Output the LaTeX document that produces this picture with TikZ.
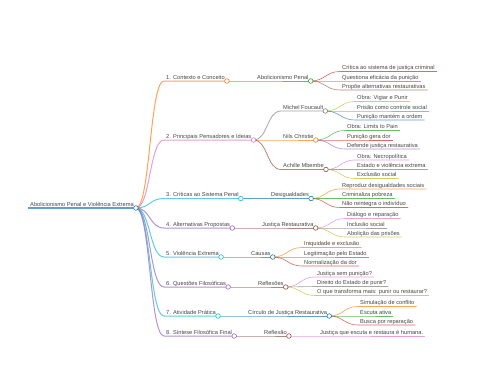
\documentclass[tikz,border=0pt]{standalone}
\usepackage{fontspec}
\setmainfont{Liberation Sans}
\usepackage{tikz}

\definecolor{cblue}{HTML}{1F77B4}
\definecolor{corange}{HTML}{FF7F0E}
\definecolor{cgreen}{HTML}{2CA02C}
\definecolor{cred}{HTML}{D62728}
\definecolor{cpurple}{HTML}{9467BD}
\definecolor{cbrown}{HTML}{8C564B}
\definecolor{cpink}{HTML}{E377C2}
\definecolor{cgray}{HTML}{7F7F7F}
\definecolor{colive}{HTML}{BCBD22}
\definecolor{ccyan}{HTML}{17BECF}

\tikzset{
  txt/.style={anchor=south west, inner xsep=2pt, inner ysep=0.8pt, text height=4.1pt, text depth=1pt,
    font=\fontsize{5.7}{6.5}\selectfont, text=black!72},
  hub/.style={circle, draw=#1, fill=white, line width=0.6pt, minimum size=4.6pt, inner sep=0pt},
  w0/.style={line width=1.5pt, draw opacity=0.7}, w1/.style={line width=1.0pt, draw opacity=0.7},
  w2/.style={line width=0.8pt, draw opacity=0.7}, w3/.style={line width=0.6pt, draw opacity=0.7}
}
% link from parent circle, then the child's underline
\newcommand{\mmlink}[4]{\draw[#1,#2] (#3.south east) .. controls +(14.5,0) and +(-14.5,0) .. (#4.south west) -- (#4.south east);}

\begin{document}
\begin{tikzpicture}[x=1pt,y=-1pt]
\useasboundingbox[fill=white] (0,0) rectangle (480,384);

% root and level 1
\node[txt] (root) at (28,208) {Abolicionismo Penal e Violência Extrema};
\node[txt] (ctx) at (164,81) {1. Contexto e Conceito};
\node[txt] (pen) at (164,140) {2. Principais Pensadores e Ideias};
\node[txt] (cri) at (164,198.5) {3. Críticas ao Sistema Penal};
\node[txt] (alt) at (164,228) {4. Alternativas Propostas};
\node[txt] (vio) at (164,257) {5. Violência Extrema};
\node[txt] (que) at (164,287) {6. Questões Filosóficas};
\node[txt] (ati) at (164,316) {7. Atividade Prática};
\node[txt] (sin) at (164,336) {8. Síntese Filosófica Final};

% level 2
\node[txt] (abo) at (255,81) {Abolicionismo Penal};
\node[txt] (fou) at (281,111) {Michel Foucault};
\node[txt] (nil) at (281,140) {Nils Christie};
\node[txt] (mbe) at (281,169.5) {Achille Mbembe};
\node[txt] (des) at (269,198.5) {Desigualdades};
\node[txt] (jus) at (260,228) {Justiça Restaurativa};
\node[txt] (cau) at (249,257) {Causas};
\node[txt] (rfl) at (256,287) {Reflexões};
\node[txt] (cir) at (246,316) {Círculo de Justiça Restaurativa};
\node[txt] (rfx) at (262,336) {Reflexão};

% leaves
\node[txt] (a1) at (340,71.5) {Crítica ao sistema de justiça criminal};
\node[txt] (a2) at (340,81) {Questiona eficácia da punição};
\node[txt] (a3) at (340,90) {Propõe alternativas restaurativas};
\node[txt] (f1) at (355,101.5) {Obra: Vigiar e Punir};
\node[txt] (f2) at (355,111) {Prisão como controle social};
\node[txt] (f3) at (355,120) {Punição mantém a ordem};
\node[txt] (n1) at (345,130.5) {Obra: Limits to Pain};
\node[txt] (n2) at (345,140) {Punição gera dor};
\node[txt] (n3) at (345,149) {Defende justiça restaurativa};
\node[txt] (m1) at (355,160) {Obra: Necropolítica};
\node[txt] (m2) at (355,169.5) {Estado e violência extrema};
\node[txt] (m3) at (355,178.5) {Exclusão social};
\node[txt] (d1) at (340,189) {Reproduz desigualdades sociais};
\node[txt] (d2) at (340,198.5) {Criminaliza pobreza};
\node[txt] (d3) at (340,207.5) {Não reintegra o indivíduo};
\node[txt] (j1) at (345,218.5) {Diálogo e reparação};
\node[txt] (j2) at (345,228) {Inclusão social};
\node[txt] (j3) at (345,237) {Abolição das prisões};
\node[txt] (c1) at (302,247.5) {Iniquidade e exclusão};
\node[txt] (c2) at (302,257) {Legitimação pelo Estado};
\node[txt] (c3) at (302,266) {Normalização da dor};
\node[txt] (r1) at (315,277) {Justiça sem punição?};
\node[txt] (r2) at (315,286.5) {Direito do Estado de punir?};
\node[txt] (r3) at (315,295.5) {O que transforma mais: punir ou restaurar?};
\node[txt] (s1) at (358,306.5) {Simulação de conflito};
\node[txt] (s2) at (358,316) {Escuta ativa};
\node[txt] (s3) at (358,325) {Busca por reparação};
\node[txt] (h1) at (318,336) {Justiça que escuta e restaura é humana.};

% connectors and underlines
\draw[cblue,w0] (root.south west) -- (root.south east);
\mmlink{corange}{w1}{root}{ctx}
\mmlink{cpink}{w1}{root}{pen}
\mmlink{ccyan}{w1}{root}{cri}
\mmlink{cpurple}{w1}{root}{alt}
\mmlink{ccyan}{w1}{root}{vio}
\mmlink{cpurple}{w1}{root}{que}
\mmlink{ccyan}{w1}{root}{ati}
\mmlink{cpurple}{w1}{root}{sin}

\mmlink{cgreen}{w2}{ctx}{abo}
\mmlink{cgray}{w2}{pen}{fou}
\mmlink{corange}{w2}{pen}{nil}
\mmlink{cbrown}{w2}{pen}{mbe}
\mmlink{cblue}{w2}{cri}{des}
\mmlink{cbrown}{w2}{alt}{jus}
\mmlink{cblue}{w2}{vio}{cau}
\mmlink{cbrown}{w2}{que}{rfl}
\mmlink{cblue}{w2}{ati}{cir}
\mmlink{cbrown}{w2}{sin}{rfx}

\mmlink{cred}{w3}{abo}{a1}
\mmlink{cpurple}{w3}{abo}{a2}
\mmlink{cbrown}{w3}{abo}{a3}
\mmlink{colive}{w3}{fou}{f1}
\mmlink{ccyan}{w3}{fou}{f2}
\mmlink{cblue}{w3}{fou}{f3}
\mmlink{cgreen}{w3}{nil}{n1}
\mmlink{cred}{w3}{nil}{n2}
\mmlink{cpurple}{w3}{nil}{n3}
\mmlink{cpink}{w3}{mbe}{m1}
\mmlink{cgray}{w3}{mbe}{m2}
\mmlink{colive}{w3}{mbe}{m3}
\mmlink{corange}{w3}{des}{d1}
\mmlink{cgreen}{w3}{des}{d2}
\mmlink{cred}{w3}{des}{d3}
\mmlink{cpink}{w3}{jus}{j1}
\mmlink{cgray}{w3}{jus}{j2}
\mmlink{colive}{w3}{jus}{j3}
\mmlink{corange}{w3}{cau}{c1}
\mmlink{cgreen}{w3}{cau}{c2}
\mmlink{cred}{w3}{cau}{c3}
\mmlink{cpink}{w3}{rfl}{r1}
\mmlink{cgray}{w3}{rfl}{r2}
\mmlink{colive}{w3}{rfl}{r3}
\mmlink{corange}{w3}{cir}{s1}
\mmlink{cgreen}{w3}{cir}{s2}
\mmlink{cred}{w3}{cir}{s3}
\mmlink{cpink}{w3}{rfx}{h1}

% circles on nodes with children
\node[hub=cblue] (root-o) at (root.south east) {};
\node[hub=corange] (ctx-o) at (ctx.south east) {};
\node[hub=cpink] (pen-o) at (pen.south east) {};
\node[hub=ccyan] (cri-o) at (cri.south east) {};
\node[hub=cpurple] (alt-o) at (alt.south east) {};
\node[hub=ccyan] (vio-o) at (vio.south east) {};
\node[hub=cpurple] (que-o) at (que.south east) {};
\node[hub=ccyan] (ati-o) at (ati.south east) {};
\node[hub=cpurple] (sin-o) at (sin.south east) {};
\node[hub=cgreen] (abo-o) at (abo.south east) {};
\node[hub=cgray] (fou-o) at (fou.south east) {};
\node[hub=corange] (nil-o) at (nil.south east) {};
\node[hub=cbrown] (mbe-o) at (mbe.south east) {};
\node[hub=cblue] (des-o) at (des.south east) {};
\node[hub=cbrown] (jus-o) at (jus.south east) {};
\node[hub=cblue] (cau-o) at (cau.south east) {};
\node[hub=cbrown] (rfl-o) at (rfl.south east) {};
\node[hub=cblue] (cir-o) at (cir.south east) {};
\node[hub=cbrown] (rfx-o) at (rfx.south east) {};
\end{tikzpicture}
\end{document}
